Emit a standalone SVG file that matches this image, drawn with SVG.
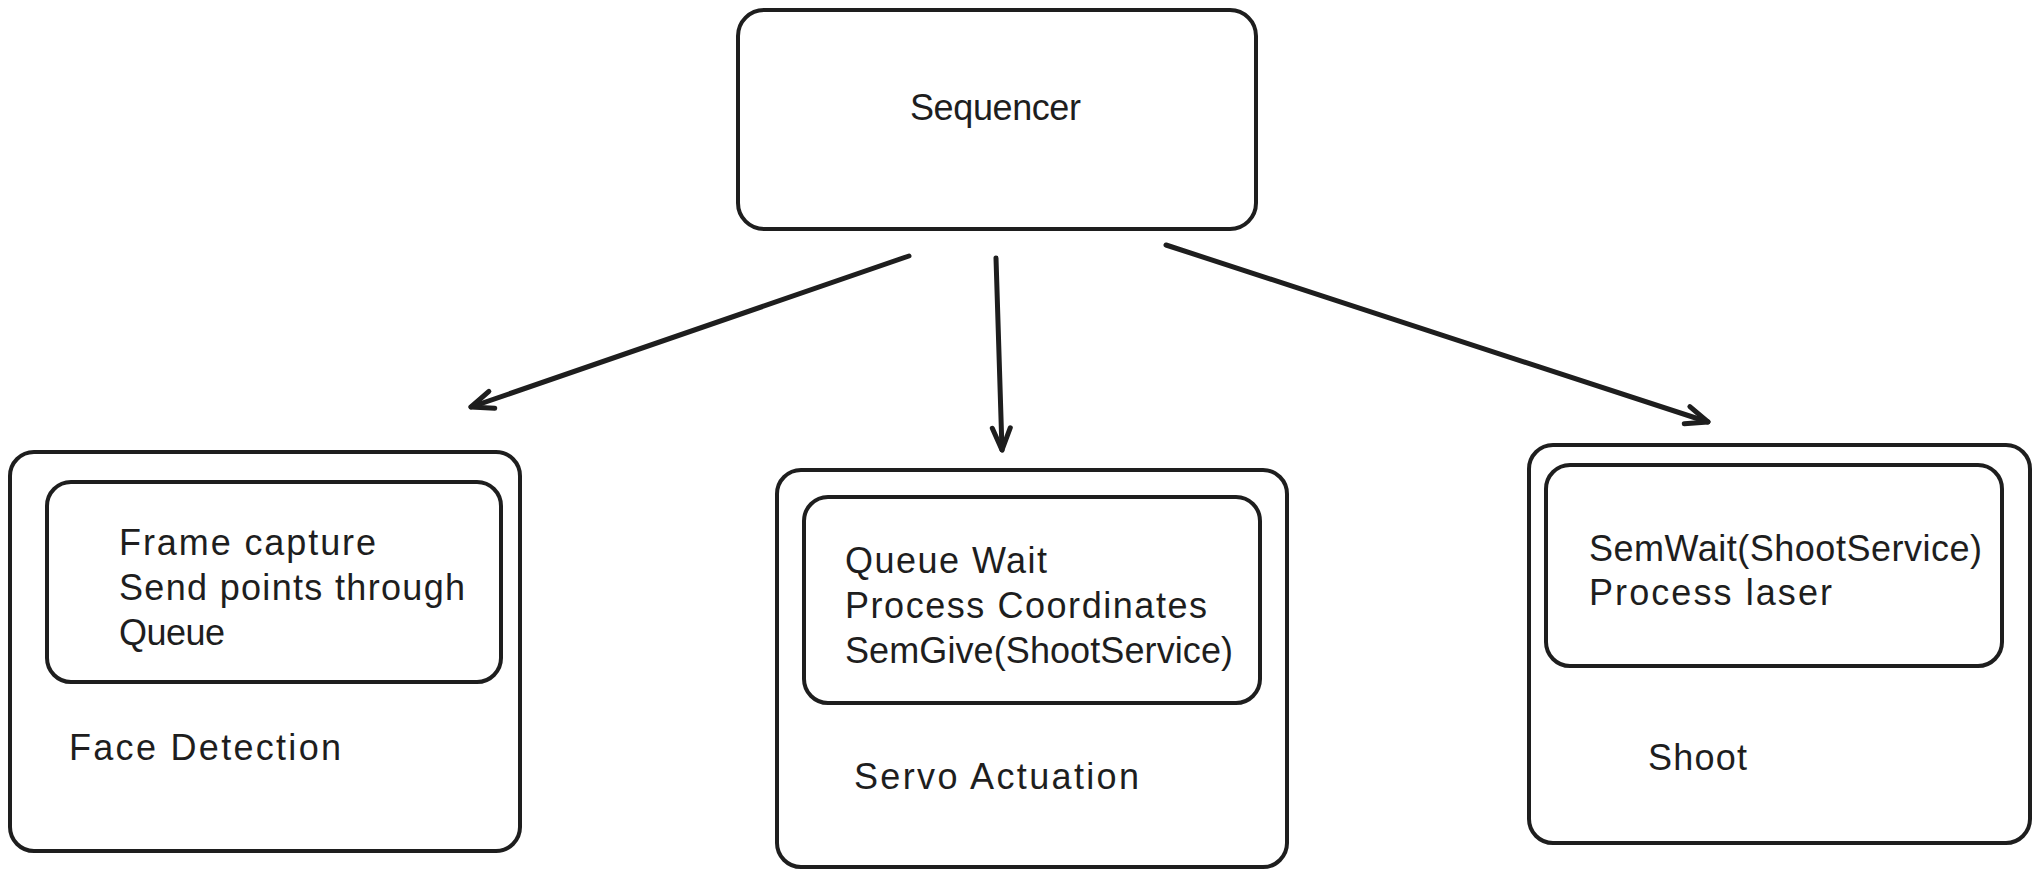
<svg xmlns="http://www.w3.org/2000/svg" width="2041" height="879" viewBox="0 0 2041 879">
<defs>
<style>
.box{fill:none;stroke:#1e1e1e;stroke-width:4;stroke-linejoin:round}
.conn{fill:none;stroke:#1e1e1e;stroke-width:5;stroke-linecap:round}
.t{font-family:"Liberation Sans",Arial,sans-serif;font-size:36px;fill:#1e1e1e}
</style>
<marker id="ah" markerUnits="userSpaceOnUse" viewBox="-30 -15 40 30" refX="0" refY="0" markerWidth="40" markerHeight="30" orient="auto">
<path d="M -22 -9 L 0 0 L -22 9" fill="none" stroke="#1e1e1e" stroke-width="5" stroke-linecap="round" stroke-linejoin="round"/>
</marker>
</defs>
<rect width="2041" height="879" fill="#ffffff"/>
<g id="sequencer">
<rect class="box" x="738" y="10" width="518" height="219" rx="26"/>
<text class="t" x="910" y="120" textLength="171" lengthAdjust="spacing">Sequencer</text>
</g>
<g id="connectors">
<line class="conn" x1="909" y1="256" x2="471" y2="407" marker-end="url(#ah)"/>
<line class="conn" x1="996" y1="258" x2="1002" y2="450" marker-end="url(#ah)"/>
<line class="conn" x1="1166" y1="245" x2="1708" y2="422" marker-end="url(#ah)"/>
</g>
<g id="face-detection">
<rect class="box" x="10" y="452" width="510" height="399" rx="24"/>
<rect class="box" x="47" y="482" width="454" height="200" rx="24"/>
<text class="t" x="119" y="555" textLength="257" lengthAdjust="spacing">Frame capture</text>
<text class="t" x="119" y="600" textLength="346" lengthAdjust="spacing">Send points through</text>
<text class="t" x="119" y="645" textLength="106" lengthAdjust="spacing">Queue</text>
<text class="t" x="69" y="760" textLength="272" lengthAdjust="spacing">Face Detection</text>
</g>
<g id="servo-actuation">
<rect class="box" x="777" y="470" width="510" height="397" rx="24"/>
<rect class="box" x="804" y="497" width="456" height="206" rx="24"/>
<text class="t" x="845" y="573" textLength="202" lengthAdjust="spacing">Queue Wait</text>
<text class="t" x="845" y="618" textLength="362" lengthAdjust="spacing">Process Coordinates</text>
<text class="t" x="845" y="663" textLength="388" lengthAdjust="spacing">SemGive(ShootService)</text>
<text class="t" x="854" y="789" textLength="285" lengthAdjust="spacing">Servo Actuation</text>
</g>
<g id="shoot">
<rect class="box" x="1529" y="445" width="501" height="398" rx="24"/>
<rect class="box" x="1546" y="465" width="456" height="201" rx="24"/>
<text class="t" x="1589" y="561" textLength="393" lengthAdjust="spacing">SemWait(ShootService)</text>
<text class="t" x="1589" y="605" textLength="243" lengthAdjust="spacing">Process laser</text>
<text class="t" x="1648" y="770" textLength="99" lengthAdjust="spacing">Shoot</text>
</g>
</svg>
